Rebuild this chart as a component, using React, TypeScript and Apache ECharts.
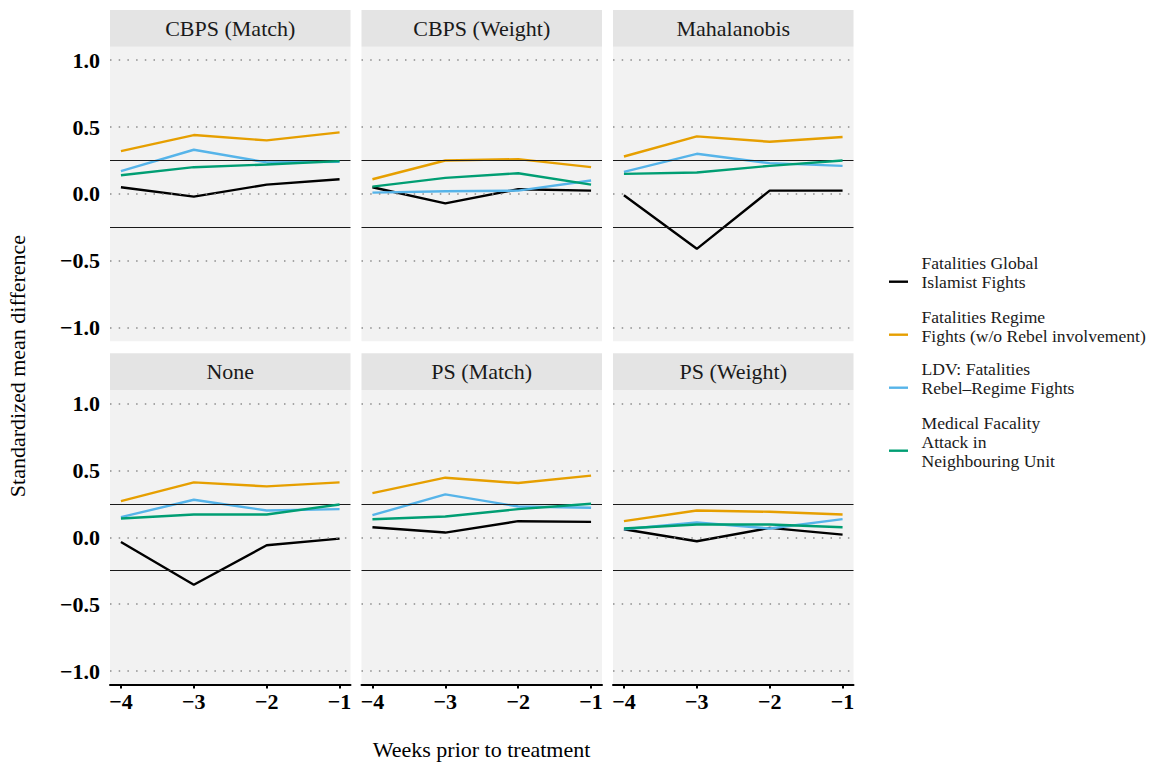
import React, { useEffect, useRef } from "react";
import * as echarts from "echarts";

const weeks = [-4, -3, -2, -1];
const panels = ["CBPS (Match)", "CBPS (Weight)", "Mahalanobis", "None", "PS (Match)", "PS (Weight)"];
const seriesNames = [
  "Fatalities Global\nIslamist Fights",
  "Fatalities Regime\nFights (w/o Rebel involvement)",
  "LDV: Fatalities\nRebel\u2013Regime Fights",
  "Medical Facality\nAttack in\nNeighbouring Unit",
];
const seriesColors = ["#000000", "#E69F00", "#56B4E9", "#009E73"];

// values per panel (order of panels above), per week (-4..-1)
const fatalitiesGlobal = [
  [0.05, -0.02, 0.07, 0.11],
  [0.05, -0.07, 0.035, 0.025],
  [-0.01, -0.41, 0.025, 0.025],
  [-0.035, -0.355, -0.06, -0.01],
  [0.075, 0.035, 0.12, 0.115],
  [0.06, -0.03, 0.07, 0.02],
];
const fatalitiesRegime = [
  [0.32, 0.44, 0.4, 0.46],
  [0.11, 0.25, 0.26, 0.2],
  [0.28, 0.43, 0.39, 0.425],
  [0.27, 0.41, 0.38, 0.41],
  [0.33, 0.445, 0.405, 0.46],
  [0.12, 0.2, 0.19, 0.17],
];
const ldvFatalities = [
  [0.17, 0.33, 0.236, 0.24],
  [0.01, 0.02, 0.025, 0.1],
  [0.165, 0.3, 0.23, 0.21],
  [0.15, 0.28, 0.2, 0.21],
  [0.165, 0.32, 0.23, 0.22],
  [0.06, 0.11, 0.065, 0.135],
];
const medicalAttack = [
  [0.14, 0.2, 0.22, 0.245],
  [0.055, 0.12, 0.155, 0.07],
  [0.15, 0.16, 0.21, 0.25],
  [0.14, 0.17, 0.17, 0.245],
  [0.135, 0.155, 0.21, 0.25],
  [0.065, 0.095, 0.095, 0.075],
];
const allSeries = [fatalitiesGlobal, fatalitiesRegime, ldvFatalities, medicalAttack];

const yTicks = [-1, -0.5, 0, 0.5, 1];
const refLines = [0.25, -0.25];

const FONT = "'Liberation Serif', 'DejaVu Serif', serif";
const colLeft = [110, 361.5, 613];
const panelW = 240.5;
const rowTop = [46.7, 390];
const panelH = 294.5;
const stripH = 36.7;

const fmt = (v: number, digits: number) => (v < 0 ? "\u2212" : "") + Math.abs(v).toFixed(digits);

export default function App() {
  const ref = useRef<HTMLDivElement>(null);
  useEffect(() => {
    document.body.style.margin = "0";
    const chart = echarts.init(ref.current!, null, { renderer: "svg" });
    const grids: any[] = [];
    const xAxes: any[] = [];
    const yAxes: any[] = [];
    const series: any[] = [];
    const graphics: any[] = [];
    panels.forEach((name, i) => {
      const r = Math.floor(i / 3);
      const c = i % 3;
      grids.push({
        left: colLeft[c],
        top: rowTop[r],
        width: panelW,
        height: panelH,
        show: true,
        backgroundColor: "#F2F2F2",
        borderWidth: 0,
      });
      xAxes.push({
        type: "value",
        gridIndex: i,
        min: -4.15,
        max: -0.85,
        axisLine: { show: r === 1, onZero: false, lineStyle: { color: "#000", width: 2 } },
        axisTick: { show: r === 1, length: 4, lineStyle: { color: "#000", width: 2 }, customValues: weeks },
        axisLabel: {
          show: r === 1,
          customValues: weeks,
          formatter: (v: number) => fmt(v, 0),
          fontFamily: FONT,
          fontWeight: "bold",
          fontSize: 22,
          color: "#000",
          margin: 6,
        },
        splitLine: { show: false },
      });
      yAxes.push({
        type: "value",
        gridIndex: i,
        min: -1.1,
        max: 1.1,
        axisLine: { show: false },
        axisTick: { show: false },
        axisLabel: {
          show: c === 0,
          customValues: yTicks,
          formatter: (v: number) => fmt(v, 1),
          fontFamily: FONT,
          fontWeight: "bold",
          fontSize: 22,
          color: "#000",
          margin: 10,
        },
        splitLine: { show: false },
      });
      series.push({
        type: "line",
        xAxisIndex: i,
        yAxisIndex: i,
        data: [[-4, 0]],
        showSymbol: false,
        lineStyle: { opacity: 0 },
        silent: true,
        z: 1,
        markLine: {
          silent: true,
          symbol: ["none", "none"],
          label: { show: false },
          emphasis: { disabled: true },
          data: [
            ...yTicks.map((v) => ({ yAxis: v, lineStyle: { type: [1.5, 7.2], color: "#8c8c8c", width: 1.5 } })),
            ...refLines.map((v) => ({ yAxis: v, lineStyle: { type: "solid", color: "#1a1a1a", width: 1 } })),
          ],
        },
      });
      allSeries.forEach((arr, s) => {
        series.push({
          type: "line",
          name: seriesNames[s],
          xAxisIndex: i,
          yAxisIndex: i,
          data: weeks.map((w, k) => [w, arr[i][k]]),
          showSymbol: false,
          symbol: "none",
          lineStyle: { color: seriesColors[s], width: 2.4 },
          itemStyle: { color: seriesColors[s] },
          z: 2 + s,
        });
      });
      const sTop = rowTop[r] - stripH;
      graphics.push({
        type: "rect",
        shape: { x: colLeft[c], y: sTop, width: panelW, height: stripH },
        style: { fill: "#E4E4E4" },
        silent: true,
      });
      graphics.push({
        type: "text",
        x: colLeft[c] + panelW / 2,
        y: sTop + stripH / 2,
        style: {
          text: name,
          font: `22px ${FONT}`,
          fill: "#1a1a1a",
          textAlign: "center",
          textVerticalAlign: "middle",
        },
        silent: true,
      });
    });

    // axis titles
    graphics.push({
      type: "text",
      x: 17.5,
      y: 366,
      rotation: Math.PI / 2,
      style: {
        text: "Standardized mean difference",
        font: `22px ${FONT}`,
        fill: "#000",
        textAlign: "center",
        textVerticalAlign: "middle",
      },
      silent: true,
    });
    graphics.push({
      type: "text",
      x: 481.5,
      y: 749,
      style: {
        text: "Weeks prior to treatment",
        font: `22px ${FONT}`,
        fill: "#000",
        textAlign: "center",
        textVerticalAlign: "middle",
      },
      silent: true,
    });

    // legend
    const blockCenters = [272.2, 326.2, 378.5, 441.9];
    const keyY = [281.7, 334.7, 387.7, 450.7];
    seriesNames.forEach((n, s) => {
      graphics.push({
        type: "line",
        shape: { x1: 889, y1: keyY[s], x2: 908, y2: keyY[s] },
        style: { stroke: seriesColors[s], lineWidth: 2.4 },
        silent: true,
      });
      graphics.push({
        type: "text",
        x: 921.5,
        y: blockCenters[s],
        style: {
          text: n,
          font: `17.6px ${FONT}`,
          lineHeight: 19,
          fill: "#1a1a1a",
          textAlign: "left",
          textVerticalAlign: "middle",
        },
        silent: true,
      });
    });

    chart.setOption({
      animation: false,
      backgroundColor: "#ffffff",
      grid: grids,
      xAxis: xAxes,
      yAxis: yAxes,
      series,
      graphic: graphics,
    });
    return () => chart.dispose();
  }, []);
  return <div ref={ref} style={{ width: 1153, height: 764 }} />;
}
